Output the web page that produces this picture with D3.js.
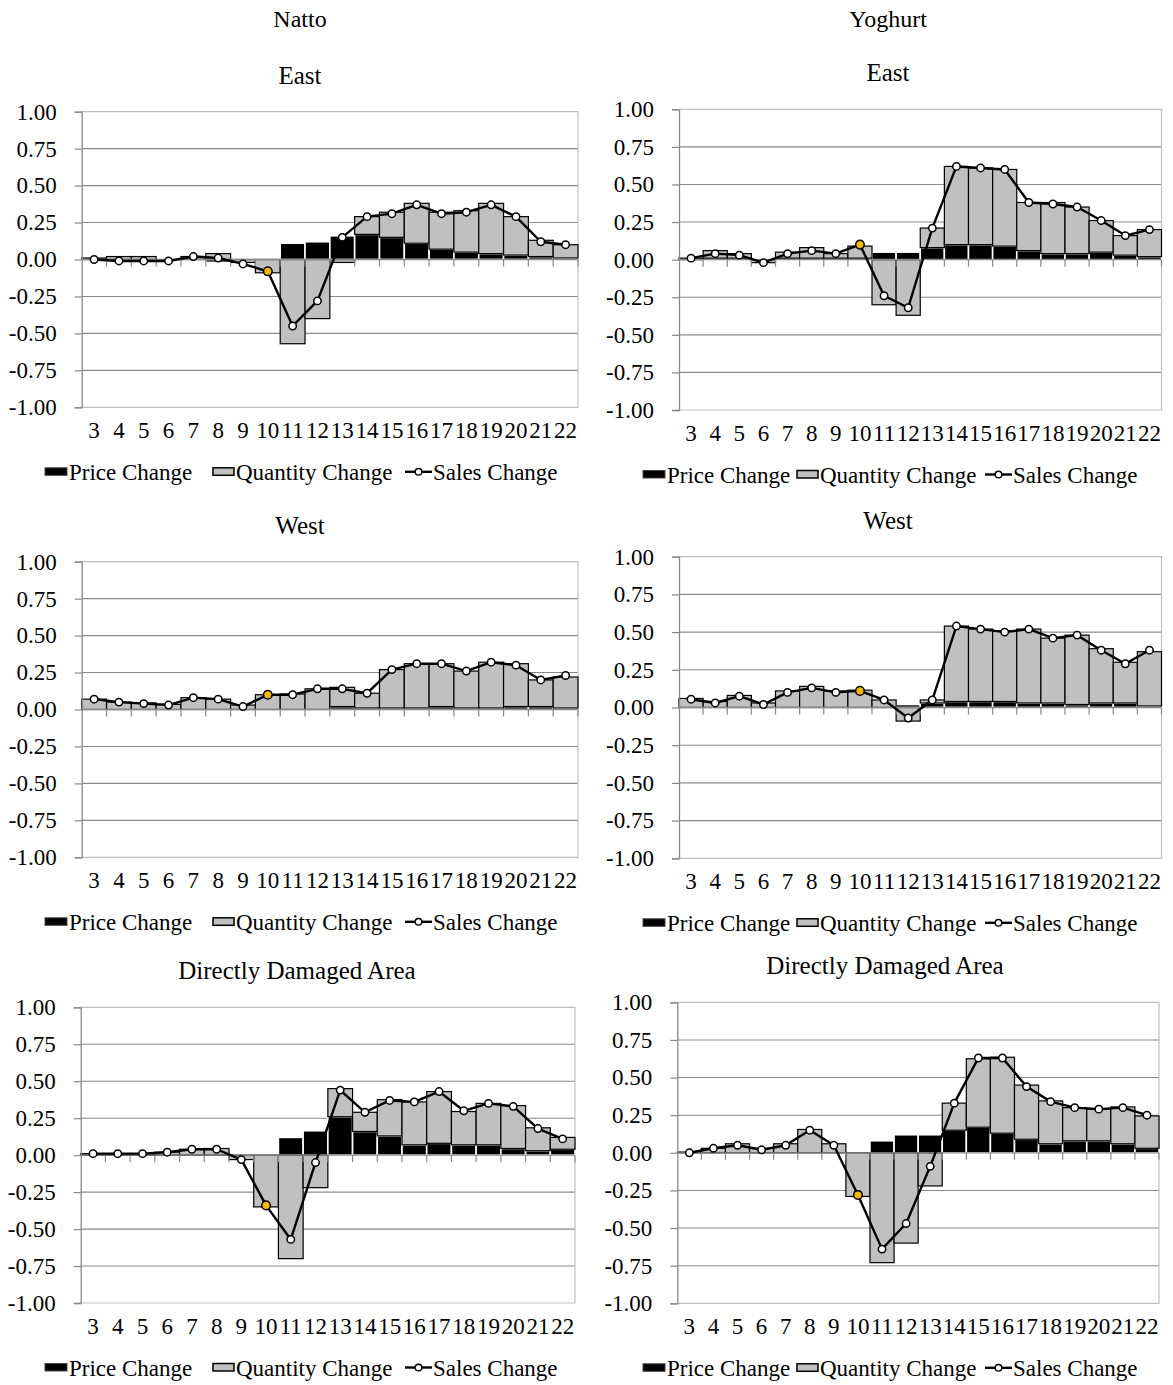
<!DOCTYPE html>
<html>
<head>
<meta charset="utf-8">
<script src="https://cdnjs.cloudflare.com/ajax/libs/d3/7.8.5/d3.min.js"></script>
<style>
  html, body { margin: 0; padding: 0; background: #ffffff; }
  svg { display: block; }
  text { font-family: "Liberation Serif", "Times New Roman", serif; fill: #000; }
</style>
</head>
<body>
<svg id="chart" width="1173" height="1385"></svg>
<script>
// ---------------- DATA ----------------
const categories = ["3","4","5","6","7","8","9","10","11","12","13","14","15","16","17","18","19","20","21","22"];
const yTicks = [-1.00, -0.75, -0.50, -0.25, 0.00, 0.25, 0.50, 0.75, 1.00];
const products = ["Natto", "Yoghurt"];
const regions = ["East", "West", "Directly Damaged Area"];
const seriesNames = ["Price Change", "Quantity Change", "Sales Change"];
const highlightCategory = "10";

// Natto - East
const nattoEastPrice    = [0.00,-0.01,-0.01,-0.01,0.00,-0.02,0.00,0.01,0.11,0.12,0.16,0.17,0.15,0.11,0.07,0.05,0.04,0.03,0.02,0.01];
const nattoEastQuantity = [0.01,0.02,0.02,0.00,0.02,0.04,-0.02,-0.09,-0.57,-0.40,-0.02,0.12,0.17,0.27,0.25,0.28,0.34,0.26,0.11,0.09];
const nattoEastSales    = [0.00,-0.01,-0.01,-0.01,0.02,0.01,-0.03,-0.08,-0.45,-0.28,0.15,0.29,0.31,0.37,0.31,0.32,0.37,0.29,0.12,0.10];
// Yoghurt - East
const yogEastPrice    = [0.00,0.01,0.01,0.00,0.01,0.01,0.01,0.01,0.05,0.05,0.08,0.10,0.10,0.09,0.06,0.04,0.04,0.05,0.03,0.02];
const yogEastQuantity = [0.01,0.05,0.03,-0.02,0.04,0.07,0.03,0.08,-0.30,-0.37,0.13,0.52,0.51,0.51,0.32,0.34,0.31,0.21,0.13,0.18];
const yogEastSales    = [0.01,0.04,0.03,-0.02,0.04,0.06,0.04,0.10,-0.24,-0.32,0.21,0.62,0.61,0.60,0.38,0.37,0.35,0.26,0.16,0.20];
// Natto - West
const nattoWestPrice    = [0.00,0.00,0.00,0.00,0.00,0.00,0.00,0.00,0.00,0.00,0.02,0.01,0.01,0.01,0.02,0.01,0.01,0.02,0.02,0.01];
const nattoWestQuantity = [0.07,0.05,0.045,0.035,0.08,0.07,0.03,0.10,0.105,0.14,0.13,0.10,0.26,0.30,0.29,0.25,0.31,0.29,0.18,0.21];
const nattoWestSales    = [0.07,0.05,0.04,0.03,0.08,0.07,0.02,0.10,0.10,0.14,0.14,0.11,0.27,0.31,0.31,0.26,0.32,0.30,0.20,0.23];
// Yoghurt - West
const yogWestPrice    = [0.00,0.00,0.00,0.00,0.00,0.00,0.00,0.00,0.00,0.02,0.03,0.04,0.04,0.04,0.03,0.03,0.02,0.03,0.03,0.01];
const yogWestQuantity = [0.06,0.04,0.08,0.03,0.11,0.14,0.11,0.115,0.05,-0.09,0.02,0.50,0.48,0.47,0.49,0.43,0.46,0.36,0.27,0.36];
const yogWestSales    = [0.055,0.03,0.075,0.02,0.10,0.13,0.10,0.11,0.05,-0.07,0.05,0.54,0.52,0.50,0.52,0.46,0.48,0.38,0.29,0.38];
// Natto - Directly Damaged Area
const nattoDDAPrice    = [0.00,0.00,0.00,0.00,0.00,0.00,0.00,0.01,0.12,0.165,0.26,0.16,0.13,0.07,0.08,0.07,0.07,0.045,0.03,0.04];
const nattoDDAQuantity = [0.01,0.01,0.01,0.02,0.04,0.045,-0.03,-0.35,-0.70,-0.22,0.19,0.13,0.245,0.29,0.35,0.225,0.28,0.29,0.155,0.08];
const nattoDDASales    = [0.01,0.01,0.01,0.02,0.04,0.04,-0.03,-0.34,-0.57,-0.05,0.44,0.29,0.37,0.36,0.43,0.30,0.35,0.33,0.18,0.11];
// Yoghurt - Directly Damaged Area
const yogDDAPrice    = [0.00,0.00,0.00,0.00,0.00,0.00,0.00,0.00,0.08,0.12,0.12,0.15,0.17,0.13,0.09,0.06,0.08,0.08,0.06,0.03];
const yogDDAQuantity = [0.005,0.03,0.06,0.03,0.06,0.155,0.06,-0.29,-0.73,-0.60,-0.22,0.18,0.455,0.505,0.36,0.285,0.22,0.21,0.245,0.215];
const yogDDASales    = [0.00,0.03,0.05,0.02,0.05,0.15,0.05,-0.28,-0.64,-0.47,-0.09,0.33,0.63,0.63,0.44,0.34,0.30,0.29,0.30,0.25];

// ---------------- LAYOUT ----------------
const panels = [
  {col:0,row:0,price:nattoEastPrice,quantity:nattoEastQuantity,sales:nattoEastSales},
  {col:1,row:0,price:yogEastPrice,quantity:yogEastQuantity,sales:yogEastSales},
  {col:0,row:1,price:nattoWestPrice,quantity:nattoWestQuantity,sales:nattoWestSales},
  {col:1,row:1,price:yogWestPrice,quantity:yogWestQuantity,sales:yogWestSales},
  {col:0,row:2,price:nattoDDAPrice,quantity:nattoDDAQuantity,sales:nattoDDASales},
  {col:1,row:2,price:yogDDAPrice,quantity:yogDDAQuantity,sales:yogDDASales}
];
// plot frames [x0, x1, yTop, yBottom] per panel (col,row)
const frames = {
  "0-0":[81.7,578,111.7,407.3], "1-0":[679,1161.5,109.3,410],
  "0-1":[81.7,578,561.7,857.3], "1-1":[679,1161.5,556.7,858.3],
  "0-2":[80.7,575,1007.3,1303], "1-2":[677.3,1159,1002.3,1303.3]
};
const colTitleX = [300, 888];
const productTitleY = 27;
const legendX = [[45,213,405],[643,797,985]];

const GRID = "#898989", BORDER = "#c0c0c0", GREY = "#c0c0c0", GOLD = "#f4b70e";
const FS = 23;
const FONT = "Liberation Serif";

const svg = d3.select("#chart");
const fmt = d => d3.format(".2f")(d).replace("\u2212","-");

products.forEach((p,i)=>{
  svg.append("text").attr("x", colTitleX[i]).attr("y", productTitleY)
    .attr("text-anchor","middle").attr("font-family",FONT).style("font-size","24px").text(p);
});

panels.forEach(pn=>{
  const [x0,x1,yt,yb] = frames[pn.col+"-"+pn.row];
  const g = svg.append("g").attr("font-family",FONT);
  const x = d3.scaleBand().domain(categories).range([x0,x1]).paddingInner(0).paddingOuter(0);
  const y = d3.scaleLinear().domain([-1,1]).range([yb,yt]);

  // region title
  g.append("text").attr("x", colTitleX[pn.col] - (pn.row===2?3:0)).attr("y", yt-28)
    .attr("text-anchor","middle").style("font-size","25px").text(regions[pn.row]);

  // gridlines
  g.selectAll("line.grid").data(yTicks.filter(t=>t>-1 && t<1 && t!==0)).enter().append("line")
    .attr("x1",x0).attr("x2",x1).attr("y1",d=>y(d)).attr("y2",d=>y(d))
    .attr("stroke",GRID).attr("stroke-width",1.1);
  // plot border (top/right/bottom)
  g.append("path").attr("d",`M${x0},${y(1)}H${x1}V${y(-1)}H${x0}`)
    .attr("fill","none").attr("stroke",BORDER).attr("stroke-width",1.2);

  // stacked bars
  const rows = categories.map((c,i)=>{
    const pr = pn.price[i], q = pn.quantity[i];
    const base = (q>=0) ? Math.max(pr,0) : Math.min(pr,0);
    return {c, pr0: 0, pr1: pr, q0: base, q1: base+q};
  });
  g.selectAll("rect.price").data(rows).enter().append("rect")
    .attr("x",d=>x(d.c)).attr("width",x.bandwidth())
    .attr("y",d=>y(Math.max(d.pr0,d.pr1))).attr("height",d=>Math.abs(y(d.pr0)-y(d.pr1)))
    .attr("fill","#000").attr("stroke","#fff").attr("stroke-width",1.6);
  g.selectAll("rect.qty").data(rows).enter().append("rect")
    .attr("x",d=>x(d.c)).attr("width",x.bandwidth())
    .attr("y",d=>y(Math.max(d.q0,d.q1))).attr("height",d=>Math.abs(y(d.q0)-y(d.q1)))
    .attr("fill",GREY).attr("stroke","#000").attr("stroke-width",1.2);

  // y axis
  const ya = d3.axisLeft(y).tickValues(yTicks).tickFormat(fmt).tickSize(7).tickPadding(18);
  const yg = g.append("g").attr("transform",`translate(${x0},0)`).call(ya)
    .attr("font-family",FONT).attr("font-size",FS);
  yg.select(".domain").attr("stroke",GRID).attr("stroke-width",1.3);
  yg.selectAll(".tick line").attr("stroke",GRID).attr("stroke-width",1.2);
  yg.selectAll(".tick text").attr("fill","#000");

  // x axis at zero: line + tick marks at category boundaries
  g.append("line").attr("x1",x0).attr("x2",x1).attr("y1",y(0)).attr("y2",y(0))
    .attr("stroke",GRID).attr("stroke-width",1.3);
  g.selectAll("line.xt").data(categories).enter().append("line")
    .attr("x1",d=>x(d)+x.bandwidth()).attr("x2",d=>x(d)+x.bandwidth())
    .attr("y1",y(0)).attr("y2",y(0)+7).attr("stroke",GRID).attr("stroke-width",1.2);

  // category labels
  g.selectAll("text.xl").data(categories).enter().append("text")
    .attr("x",d=>x(d)+x.bandwidth()/2).attr("y",yb+31)
    .attr("text-anchor","middle").style("font-size",FS+"px").text(d=>d);

  // sales line
  const pts = categories.map((c,i)=>({c, v: pn.sales[i]}));
  g.append("path").datum(pts)
    .attr("d", d3.line().x(d=>x(d.c)+x.bandwidth()/2).y(d=>y(d.v)))
    .attr("fill","none").attr("stroke","#000").attr("stroke-width",2.4).attr("stroke-linejoin","round");
  g.selectAll("circle.m").data(pts).enter().append("circle")
    .attr("cx",d=>x(d.c)+x.bandwidth()/2).attr("cy",d=>y(d.v))
    .attr("r",d=>d.c===highlightCategory?4.3:3.7)
    .attr("fill",d=>d.c===highlightCategory?GOLD:"#fff").attr("stroke","#000").attr("stroke-width",1.5);

  // legend
  const lb = yb + 73;
  const lx = legendX[pn.col];
  g.append("rect").attr("x",lx[0]).attr("y",lb-12.5).attr("width",22).attr("height",7.5)
    .attr("fill","#000").attr("stroke","#444").attr("stroke-width",1);
  g.append("text").attr("x",lx[0]+24).attr("y",lb).style("font-size",FS+"px").text(seriesNames[0]);
  g.append("rect").attr("x",lx[1]).attr("y",lb-12.5).attr("width",21).attr("height",7.5)
    .attr("fill",GREY).attr("stroke","#000").attr("stroke-width",1.5);
  g.append("text").attr("x",lx[1]+23).attr("y",lb).style("font-size",FS+"px").text(seriesNames[1]);
  g.append("line").attr("x1",lx[2]).attr("x2",lx[2]+27).attr("y1",lb-8.5).attr("y2",lb-8.5)
    .attr("stroke","#000").attr("stroke-width",2.4);
  g.append("circle").attr("cx",lx[2]+13.5).attr("cy",lb-8.5).attr("r",3.3)
    .attr("fill","#fff").attr("stroke","#000").attr("stroke-width",1.4);
  g.append("text").attr("x",lx[2]+28).attr("y",lb).style("font-size",FS+"px").text(seriesNames[2]);
});
</script>
</body>
</html>
